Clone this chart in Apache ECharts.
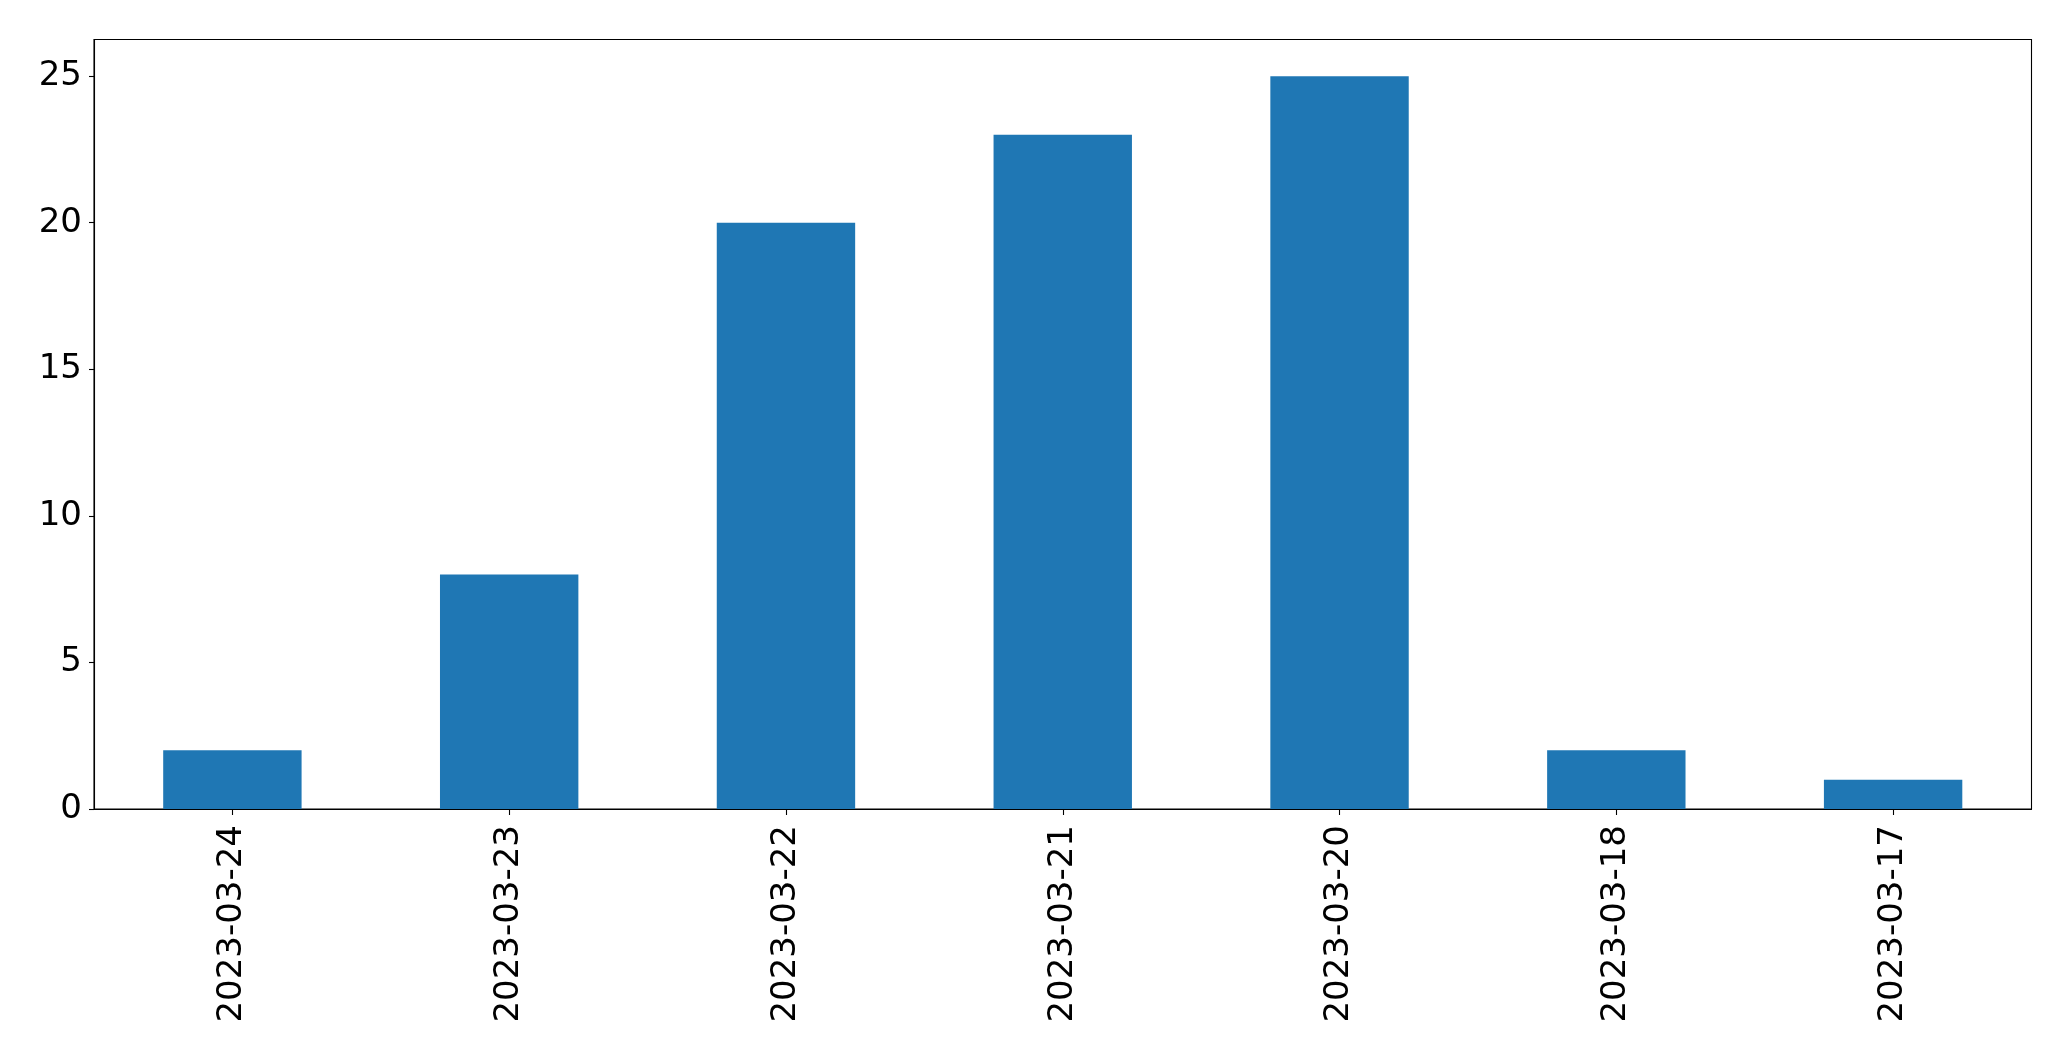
<!DOCTYPE html>
<html>
<head>
<meta charset="utf-8">
<script src="https://cdn.jsdelivr.net/npm/echarts@6/dist/echarts.min.js"></script>
<style>
html,body{margin:0;padding:0;background:#fff;}
#chart{width:2071px;height:1061px;}
</style>
</head>
<body>
<div id="chart"></div>
<script>
const categories = ['2023-03-24','2023-03-23','2023-03-22','2023-03-21','2023-03-20','2023-03-18','2023-03-17'];
const counts = [2, 8, 20, 23, 25, 2, 1];
const yTicks = [0, 5, 10, 15, 20, 25];
const yMax = 26.25;

const chart = echarts.init(document.getElementById('chart'), null, {renderer: 'canvas'});
const font = 'DejaVu Sans';
chart.setOption({
  animation: false,
  backgroundColor: '#ffffff',
  grid: {
    left: 94, right: 39.5, top: 39.5, bottom: 252,
    show: true, borderColor: '#000', borderWidth: 1.1, backgroundColor: 'transparent'
  },
  xAxis: {
    type: 'category',
    data: categories,
    axisLine: {show: true, lineStyle: {color: '#000', width: 1.1}},
    axisTick: {show: true, alignWithLabel: true, length: 6, lineStyle: {color: '#000', width: 1.1}},
    axisLabel: {rotate: 90, margin: 16, color: '#000', fontFamily: font, fontSize: 34, interval: 0},
    splitLine: {show: false}
  },
  yAxis: {
    type: 'value',
    min: 0, max: yMax,
    axisLine: {show: true, lineStyle: {color: '#000', width: 1.1}},
    axisTick: {show: true, length: 5, customValues: yTicks, lineStyle: {color: '#000', width: 1.1}},
    axisLabel: {customValues: yTicks, margin: 12, color: '#000', fontFamily: font, fontSize: 34},
    splitLine: {show: false}
  },
  series: [{
    type: 'bar',
    data: counts,
    barWidth: '50%',
    itemStyle: {color: '#1f77b4'}
  }]
});
</script>
</body>
</html>
